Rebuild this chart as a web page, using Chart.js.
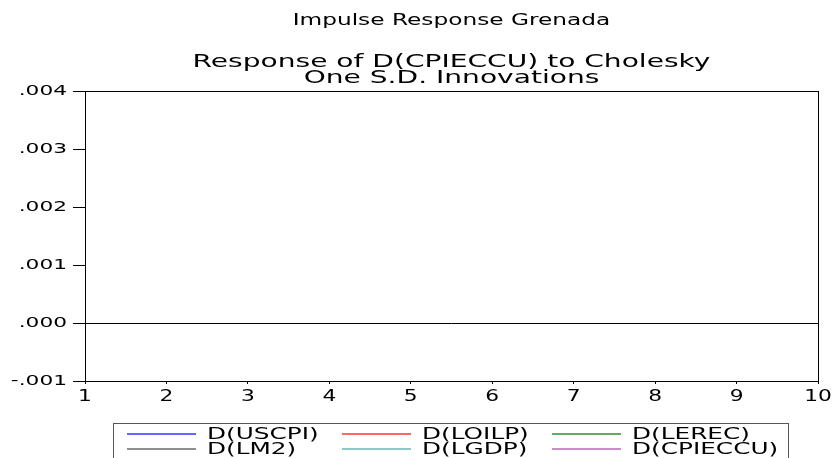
<!DOCTYPE html>
<html>
<head>
<meta charset="utf-8">
<script src="https://cdn.jsdelivr.net/npm/chart.js@4"></script>
<style>
  html, body { margin: 0; padding: 0; background: #fff; }
  #wrap { width: 835px; height: 458px; position: relative; }
</style>
</head>
<body>
<div id="wrap"><canvas id="irf" width="835" height="458"></canvas></div>
<script>
// periods and responses (no response lines are visible in the source graph)
const periods = [1, 2, 3, 4, 5, 6, 7, 8, 9, 10];
const dUscpi   = [null, null, null, null, null, null, null, null, null, null];
const dLoilp   = [null, null, null, null, null, null, null, null, null, null];
const dLerec   = [null, null, null, null, null, null, null, null, null, null];
const dLm2     = [null, null, null, null, null, null, null, null, null, null];
const dLgdp    = [null, null, null, null, null, null, null, null, null, null];
const dCpieccu = [null, null, null, null, null, null, null, null, null, null];

const seriesNames = ["D(USCPI)", "D(LOILP)", "D(LEREC)", "D(LM2)", "D(LGDP)", "D(CPIECCU)"];
const seriesColors = ["#3535ff", "#ff3535", "#2f8f2f", "#6a6a6a", "#6ab4b4", "#b46ab4"];
const yTicks = [-0.001, 0, 0.001, 0.002, 0.003, 0.004];

const mainTitle = "Impulse Response Grenada";
const subTitle = ["Response of D(CPIECCU) to Cholesky", "One S.D. Innovations"];

const FONT = "'DejaVu Sans', Verdana, sans-serif";

function fmt(v) {
  let s = Math.abs(v).toFixed(3).replace(/^0/, "");
  return (v < 0 ? "-" : "") + s;
}

// the source font is drawn wide, so text is stretched sideways
function wideText(ctx, txt, x, y, align, sx, size) {
  ctx.save();
  ctx.font = size + "px " + FONT;
  ctx.fillStyle = "#000";
  ctx.textBaseline = "middle";
  ctx.textAlign = align;
  ctx.translate(x, y);
  ctx.scale(sx, 1);
  ctx.fillText(txt, 0, 0);
  ctx.restore();
}

const evFrame = {
  id: "evFrame",
  afterDatasetsDraw(chart) {
    const { ctx, chartArea: a, scales } = chart;
    ctx.save();
    ctx.strokeStyle = "#000";
    ctx.lineWidth = 1;
    ctx.strokeRect(a.left + 0.5, a.top + 0.5, a.right - a.left, a.bottom - a.top);
    const y0 = Math.round(scales.y.getPixelForValue(0)) + 0.5;
    ctx.beginPath();
    ctx.moveTo(a.left, y0);
    ctx.lineTo(a.right, y0);
    ctx.stroke();
    ctx.restore();
  },
  afterDraw(chart) {
    const { ctx, chartArea: a, scales } = chart;
    const cx = (a.left + a.right) / 2;

    // titles
    wideText(ctx, mainTitle, cx, 21, "center", 1.55, 15);
    wideText(ctx, subTitle[0], cx, 62, "center", 1.56, 18);
    wideText(ctx, subTitle[1], cx, 78, "center", 1.56, 18);

    // tick labels
    scales.y.ticks.forEach(t => {
      wideText(ctx, fmt(t.value), 67, scales.y.getPixelForValue(t.value), "right", 1.55, 14);
    });
    scales.x.ticks.forEach(t => {
      wideText(ctx, String(t.value), scales.x.getPixelForValue(t.value), 397, "center", 1.45, 15);
    });

    // legend
    const colX = [127, 342, 552];
    const rowY = [434, 449];
    ctx.save();
    ctx.strokeStyle = "#555";
    ctx.lineWidth = 1;
    ctx.strokeRect(113.5, 423.5, 675, 60);
    chart.data.datasets.forEach((ds, i) => {
      const x = colX[i % 3], y = rowY[Math.floor(i / 3)];
      ctx.strokeStyle = ds.borderColor;
      ctx.lineWidth = 1.5;
      ctx.beginPath();
      ctx.moveTo(x, y);
      ctx.lineTo(x + 69, y);
      ctx.stroke();
      wideText(ctx, ds.label, x + 80, y + 1, "left", 1.65, 15);
    });
    ctx.restore();
  }
};

const series = [dUscpi, dLoilp, dLerec, dLm2, dLgdp, dCpieccu];

new Chart(document.getElementById("irf"), {
  type: "line",
  data: {
    datasets: series.map((vals, i) => ({
      label: seriesNames[i],
      data: periods.map((p, j) => ({ x: p, y: vals[j] })),
      borderColor: seriesColors[i],
      backgroundColor: seriesColors[i],
      borderWidth: 1.5,
      pointRadius: 0
    }))
  },
  options: {
    responsive: false,
    animation: false,
    layout: { padding: { left: 0, right: 17, top: 91, bottom: 47 } },
    plugins: {
      legend: { display: false },
      tooltip: { enabled: false },
      title: { display: false }
    },
    scales: {
      x: {
        type: "linear",
        min: 1,
        max: 10,
        afterBuildTicks(s) { s.ticks = periods.map(v => ({ value: v })); },
        afterFit(s) { s.height = 30; },
        grid: { display: true, drawOnChartArea: false, drawTicks: true, tickLength: 3, color: "#000" },
        border: { display: true, color: "#000" },
        ticks: { display: false }
      },
      y: {
        min: -0.001,
        max: 0.004,
        afterBuildTicks(s) { s.ticks = yTicks.map(v => ({ value: v })); },
        afterFit(s) { s.width = 85; },
        grid: { display: true, drawOnChartArea: false, drawTicks: true, tickLength: 12, color: "#000" },
        border: { display: true, color: "#000" },
        ticks: { display: false }
      }
    }
  },
  plugins: [evFrame]
});
</script>
</body>
</html>
